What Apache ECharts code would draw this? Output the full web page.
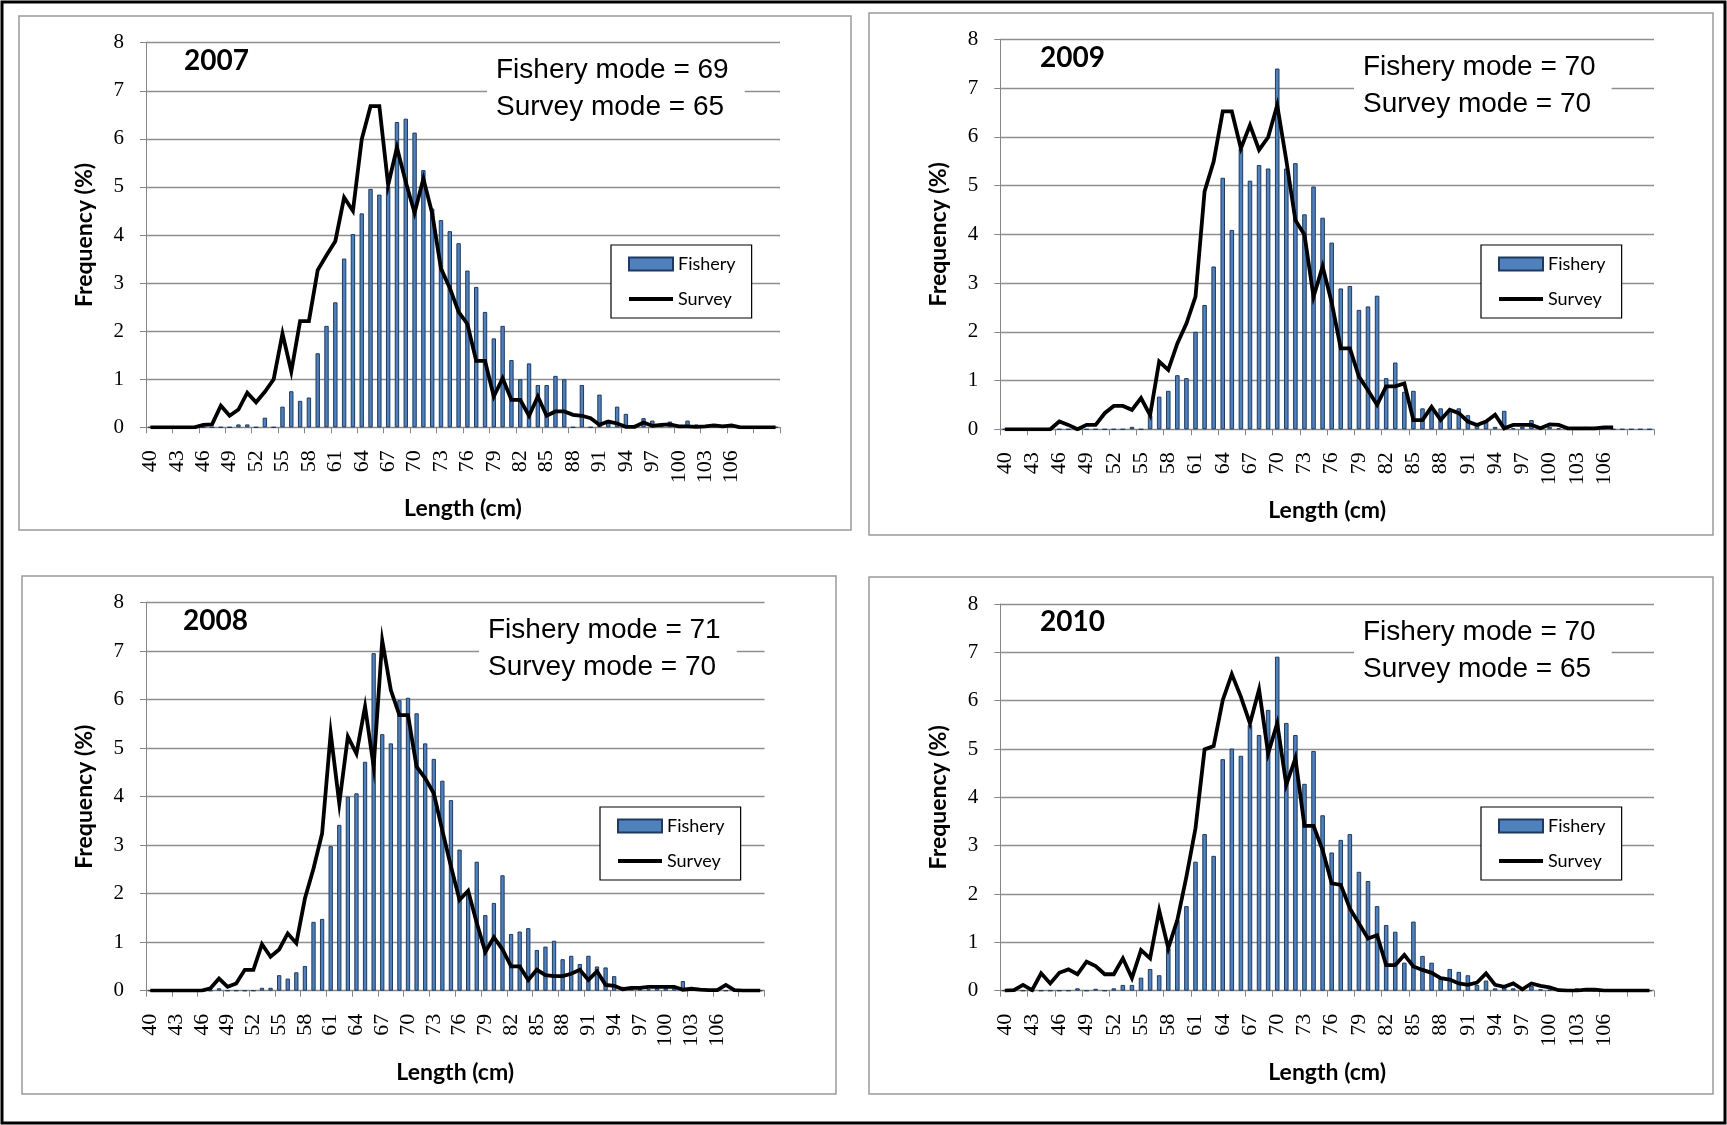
<!DOCTYPE html>
<html>
<head>
<meta charset="utf-8">
<title>Length frequency: fishery vs survey, 2007-2010</title>
<script src="https://cdn.jsdelivr.net/npm/echarts@6/dist/echarts.min.js"></script>
<style>
  html, body { margin: 0; padding: 0; background: #fff; }
  #chart { width: 1727px; height: 1125px; }
</style>
</head>
<body>
<div id="chart"></div>
<script>
// Length classes (cm)
const lengths = ['40','41','42','43','44','45','46','47','48','49',
  '50','51','52','53','54','55','56','57','58','59',
  '60','61','62','63','64','65','66','67','68','69',
  '70','71','72','73','74','75','76','77','78','79',
  '80','81','82','83','84','85','86','87','88','89',
  '90','91','92','93','94','95','96','97','98','99',
  '100','101','102','103','104','105','106','107','108','109',
  '110','111'];

// Lengths that carry a tick label
const tickLabels = ['40','43','46','49','52','55','58','61','64','67','70','73',
  '76','79','82','85','88','91','94','97','100','103','106'];

const years = ['2007', '2009', '2008', '2010'];
const fisheryModes = [69, 70, 71, 70];
const surveyModes = [65, 70, 70, 65];

// Frequency (%) by length class, 40..111 cm
const fishery2007 = [0,0,0,0,0,0,0,0,0,0,
  0.06,0.06,0,0.2,0,0.43,0.75,0.55,0.62,1.54,
  2.11,2.6,3.51,4.02,4.45,4.96,4.84,5.0,6.35,6.42,
  6.13,5.35,4.55,4.31,4.08,3.83,3.26,2.92,2.4,1.85,
  2.11,1.4,1.0,1.33,0.88,0.88,1.07,1.0,0,0.88,
  0,0.68,0.15,0.43,0.28,0.05,0.19,0.14,0.05,0.12,
  0.05,0.14,0.06,0.03,0.06,0.05,0.05,0,0,0,
  0,0];
const survey2007 = [0,0,0,0,0,0,0.05,0.06,0.45,0.24,
  0.37,0.72,0.52,0.74,1.0,1.95,1.16,2.21,2.21,3.27,
  3.58,3.87,4.78,4.5,5.99,6.68,6.68,5.04,5.82,5.1,
  4.46,5.17,4.45,3.3,2.9,2.4,2.15,1.38,1.38,0.64,
  1.02,0.57,0.57,0.24,0.64,0.24,0.33,0.33,0.26,0.24,
  0.19,0.05,0.12,0.08,0.01,0.01,0.1,0.03,0.05,0.06,
  0.02,0.02,0.01,0.02,0.04,0.02,0.04,0,0,0,
  0,0];

const fishery2009 = [0,0,0,0,0,0,0,0,0,0,
  0,0,0,0,0.05,0,0.29,0.67,0.79,1.11,
  1.05,2.0,2.55,3.34,5.16,4.09,5.76,5.1,5.42,5.35,
  7.4,5.35,5.46,4.41,4.98,4.34,3.83,2.89,2.94,2.45,
  2.52,2.74,1.05,1.37,0.77,0.79,0.43,0.46,0.43,0.4,
  0.43,0.29,0.1,0.15,0.05,0.38,0.02,0.05,0.19,0.03,
  0.05,0.02,0.03,0.02,0.05,0.05,0.02,0,0,0,
  0,0];
const survey2009 = [0,0,0,0,0,0,0.16,0.09,0,0.09,
  0.09,0.33,0.48,0.48,0.4,0.64,0.29,1.39,1.22,1.76,
  2.17,2.72,4.88,5.49,6.52,6.52,5.76,6.24,5.73,5.99,
  6.65,5.52,4.29,3.99,2.72,3.34,2.6,1.66,1.66,1.08,
  0.8,0.5,0.88,0.88,0.94,0.19,0.19,0.46,0.19,0.4,
  0.33,0.16,0.09,0.16,0.3,0.02,0.09,0.09,0.09,0.02,
  0.1,0.09,0.02,0.02,0.02,0.02,0.04,0.04,null,null,
  null,null];

const fishery2008 = [0,0,0,0,0,0,0,0,0.05,0,
  0,0,0,0.06,0.06,0.32,0.25,0.38,0.51,1.42,
  1.48,2.98,3.42,4.0,4.07,4.72,6.96,5.29,5.1,5.99,
  6.04,5.72,5.1,4.78,4.33,3.93,2.91,2.0,2.66,1.56,
  1.81,2.38,1.17,1.22,1.29,0.84,0.91,1.03,0.65,0.72,
  0.55,0.72,0.5,0.48,0.3,0.08,0.05,0.03,0.03,0.05,
  0.05,0.05,0.2,0.03,0.02,0.02,0,0,0,0,
  0,0];
const survey2008 = [0,0,0,0,0,0,0,0.05,0.25,0.08,
  0.15,0.43,0.43,0.96,0.7,0.85,1.18,0.98,1.9,2.52,
  3.24,5.31,3.86,5.24,4.89,5.86,4.62,7.22,6.2,5.68,
  5.68,4.62,4.38,4.07,3.3,2.56,1.87,2.06,1.4,0.8,
  1.1,0.85,0.5,0.5,0.22,0.43,0.32,0.3,0.3,0.35,
  0.43,0.22,0.4,0.12,0.1,0.03,0.06,0.06,0.08,0.08,
  0.08,0.08,0.02,0.04,0.02,0.01,0.01,0.12,0.01,0,
  0,0];

const fishery2010 = [0,0,0,0,0,0,0,0,0.05,0,
  0.04,0,0.05,0.12,0.12,0.27,0.45,0.32,0.88,1.46,
  1.75,2.67,3.24,2.79,4.79,5.01,4.86,5.5,5.29,5.81,
  6.91,5.54,5.29,4.28,4.96,3.63,2.86,3.12,3.24,2.46,
  2.27,1.75,1.36,1.22,0.58,1.43,0.72,0.58,0.26,0.45,
  0.39,0.32,0.12,0.21,0.05,0.08,0.05,0.03,0.1,0.03,
  0.02,0.02,0.01,0.05,0.05,0,0,0,0,0,
  0,0];
const survey2010 = [0,0.01,0.12,0.01,0.36,0.15,0.37,0.44,0.34,0.6,
  0.51,0.34,0.34,0.67,0.26,0.84,0.67,1.66,0.88,1.46,
  2.36,3.36,4.99,5.06,6.01,6.55,6.08,5.53,6.23,4.91,
  5.53,4.26,4.81,3.41,3.41,2.91,2.22,2.19,1.7,1.39,
  1.08,1.15,0.53,0.53,0.74,0.5,0.43,0.37,0.26,0.23,
  0.15,0.12,0.17,0.36,0.12,0.08,0.15,0.03,0.15,0.1,
  0.07,0.01,0,0,0.02,0.02,0,0,0,0,
  0,0];

const fisherySeries = [fishery2007, fishery2009, fishery2008, fishery2010];
const surveySeries = [survey2007, survey2009, survey2008, survey2010];

// Panel layout: outer frame, plot area, year label, mode box, legend box
const panels = [
  { frame: [19, 16, 832, 514],  grid: { left: 146,  top: 42.7, width: 634,   height: 384.6 },
    year: [184, 47],  mode: [487, 49],   legend: [611, 245] },
  { frame: [869, 13, 844, 522], grid: { left: 1000.3, top: 39.3, width: 653.7, height: 390 },
    year: [1040, 44], mode: [1354, 46],  legend: [1481, 245] },
  { frame: [22, 576, 814, 518], grid: { left: 146,  top: 602.7, width: 618.5, height: 388 },
    year: [183, 607], mode: [479, 609],  legend: [600, 807] },
  { frame: [869, 577, 844, 517], grid: { left: 1000.3, top: 604, width: 653.7, height: 386.7 },
    year: [1040, 608], mode: [1354, 611], legend: [1481, 807] }
];

const axisGray = '#868686';
const gridGray = '#8e8e8e';
const tickFont = 'Liberation Serif';
const titleFont = 'Lato';

const option = {
  animation: false,
  backgroundColor: '#fff',
  title: [],
  legend: [],
  grid: [],
  xAxis: [],
  yAxis: [],
  series: [],
  graphic: [
    { type: 'rect', shape: { x: 2, y: 2, width: 1723, height: 1121 },
      style: { fill: 'none', stroke: '#000', lineWidth: 3 }, silent: true }
  ]
};

panels.forEach(function (p, i) {
  option.graphic.push({
    type: 'rect',
    shape: { x: p.frame[0], y: p.frame[1], width: p.frame[2], height: p.frame[3] },
    style: { fill: 'none', stroke: '#9a9a9a', lineWidth: 1.5 },
    silent: true
  });

  option.grid.push(Object.assign({ containLabel: false }, p.grid));

  option.xAxis.push({
    gridIndex: i,
    type: 'category',
    data: lengths,
    boundaryGap: true,
    axisLine: { show: true, lineStyle: { color: axisGray, width: 1 } },
    axisTick: { show: true, interval: 2, length: 6, lineStyle: { color: axisGray } },
    axisLabel: {
      interval: function (idx, val) { return tickLabels.indexOf(val) !== -1; },
      rotate: 90,
      margin: 23,
      fontFamily: tickFont,
      fontSize: 22,
      color: '#000'
    },
    splitLine: { show: false },
    name: 'Length (cm)',
    nameLocation: 'middle',
    nameGap: 70,
    nameTextStyle: { fontFamily: titleFont, fontWeight: 'bold', fontSize: 23, color: '#000' }
  });

  option.yAxis.push({
    gridIndex: i,
    type: 'value',
    min: 0,
    max: 8,
    interval: 1,
    axisLine: { show: true, lineStyle: { color: axisGray, width: 1 } },
    axisTick: { show: true, length: 6, lineStyle: { color: axisGray } },
    axisLabel: { margin: 22, fontFamily: tickFont, fontSize: 21, color: '#000' },
    splitLine: { show: true, lineStyle: { color: gridGray, width: 1.3 } },
    name: 'Frequency (%)',
    nameLocation: 'middle',
    nameGap: 50,
    nameTextStyle: { fontFamily: titleFont, fontWeight: 'bold', fontSize: 23, color: '#000' }
  });

  option.series.push({
    type: 'bar',
    name: 'Fishery',
    xAxisIndex: i,
    yAxisIndex: i,
    data: fisherySeries[i],
    barWidth: '50%',
    itemStyle: { color: '#4f81bd', borderColor: '#1f3a60', borderWidth: 1 },
    z: 2
  });

  option.series.push({
    type: 'line',
    name: 'Survey',
    xAxisIndex: i,
    yAxisIndex: i,
    data: surveySeries[i],
    symbol: 'none',
    connectNulls: false,
    lineStyle: { color: '#000', width: 3.8, join: 'miter' },
    itemStyle: { color: '#000' },
    z: 3
  });

  option.title.push({
    text: years[i],
    left: p.year[0],
    top: p.year[1],
    padding: 0,
    textStyle: { fontFamily: titleFont, fontWeight: 'bold', fontSize: 28, color: '#000' }
  });

  option.title.push({
    text: 'Fishery mode = ' + fisheryModes[i] + '\nSurvey mode = ' + surveyModes[i],
    left: p.mode[0],
    top: p.mode[1],
    backgroundColor: '#fff',
    padding: [3, 16, 3, 9],
    textStyle: { fontFamily: 'Liberation Sans', fontWeight: 'normal', fontSize: 28, lineHeight: 37, color: '#000' }
  });

  option.legend.push({
    orient: 'vertical',
    left: p.legend[0],
    top: p.legend[1],
    backgroundColor: '#fff',
    borderColor: '#000',
    borderWidth: 1.2,
    padding: [10, 16, 10, 17],
    itemGap: 17,
    itemWidth: 44,
    itemHeight: 13,
    selectedMode: false,
    textStyle: { fontFamily: titleFont, fontSize: 18, color: '#000' },
    data: [
      { name: 'Fishery', icon: 'rect' },
      { name: 'Survey', icon: 'path://M0,0H100V9H0Z' }
    ]
  });
});

const chart = echarts.init(document.getElementById('chart'), null, { renderer: 'canvas' });
chart.setOption(option);
</script>
</body>
</html>
